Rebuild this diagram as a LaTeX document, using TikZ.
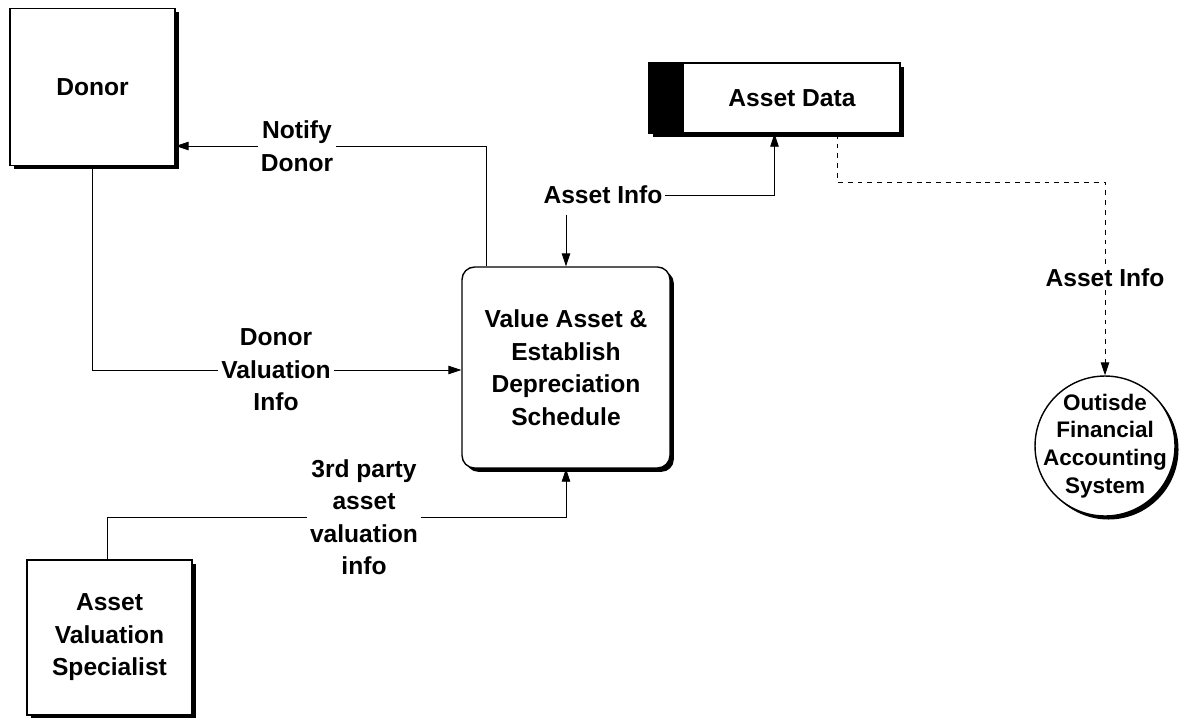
\documentclass[tikz,border=0pt]{standalone}
\usepackage{fontspec}
\setmainfont{Liberation Sans}
\usepackage{tikz}
\usetikzlibrary{arrows.meta,shapes,positioning,shadows,calc}

\tikzset{
  dfd/.style={font=\fontsize{14}{18.5}\selectfont\bfseries, align=center},
  entity/.style={dfd, draw, line width=0.8pt, fill=white, minimum width=3.3cm, minimum height=3.14cm,
    drop shadow={shadow xshift=2.2pt, shadow yshift=-2.2pt, fill=black, opacity=1}},
  process/.style={dfd, draw, line width=0.8pt, fill=white, rounded corners=0.25cm,
    minimum width=4.16cm, minimum height=4.02cm,
    drop shadow={shadow xshift=2.2pt, shadow yshift=-2.2pt, fill=black, opacity=1}},
  datastore/.style={dfd, draw, line width=0.8pt, fill=white, minimum width=5.02cm, minimum height=1.4cm,
    drop shadow={shadow xshift=2pt, shadow yshift=-2pt, fill=black, opacity=1}},
  extsys/.style={dfd, font=\fontsize{12.8}{15.8}\selectfont\bfseries, circle, draw, line width=0.8pt,
    fill=white, minimum size=2.8cm, inner sep=-0.2cm,
    drop shadow={shadow xshift=2pt, shadow yshift=-2pt, fill=black, opacity=1}},
  flowlabel/.style={dfd, inner sep=1.5pt},
  flow/.style={line width=0.5pt},
  arr/.style={flow, -{Triangle[length=0.26cm,width=0.17cm]}},
}

\begin{document}
\begin{tikzpicture}[x=0.02cm, y=-0.02cm]
\useasboundingbox (0,0) rectangle (1182,717);

% Entities and processes
\node[entity] (donor) at (92.5,87) {Donor};
\node[entity, minimum height=3.1cm] (spec) at (109.5,637.5) {Asset\\Valuation\\Specialist};
\node[process] (proc) at (566,367.5) {Value Asset \&\\Establish\\Depreciation\\Schedule};
\node[datastore] (store) at (774.5,98) {\hspace*{0.7cm}Asset Data};
\fill (store.north west) rectangle ([xshift=0.72cm]store.south west);
\node[extsys] (ofas) at (1105,446) {Outisde\\Financial\\Accounting\\System};

% Flow labels
\node[flowlabel] (notify) at (297,146) {Notify\\Donor};
\node[flowlabel] (dvi) at (276,370) {Donor\\Valuation\\Info};
\node[flowlabel] (third) at (364,517) {3rd party\\asset\\valuation\\info};
\node[flowlabel] (ainfo) at (603,195) {Asset Info};
\node[flowlabel] (ainfo2) at (1105,278) {Asset Info};
\coordinate (bend) at (1105,182);

% Flows
\draw[flow] ([xshift=0.5cm]proc.north west) |- (notify.east);
\draw[arr] (notify.west) -- (notify.west -| donor.east);
\draw[flow] (donor.south) |- (dvi.west);
\draw[arr] (dvi.east) -- (proc.west |- dvi);
\draw[flow] ([xshift=-0.05cm]spec.north) |- (third.west);
\draw[arr] (third.east) -| (proc.south);
\draw[arr] (ainfo.east) -| (store.south);
\draw[arr] ([yshift=-0.15cm]ainfo.south -| proc.north) -- (proc.north);
\draw[flow, dashed, dash pattern=on 2.8pt off 2.8pt] ([xshift=1.25cm]store.south) |- (bend) -- (ainfo2.north);
\draw[arr, dashed, dash pattern=on 2.8pt off 2.8pt] (ainfo2.south) -- (ofas.north);

\end{tikzpicture}
\end{document}
